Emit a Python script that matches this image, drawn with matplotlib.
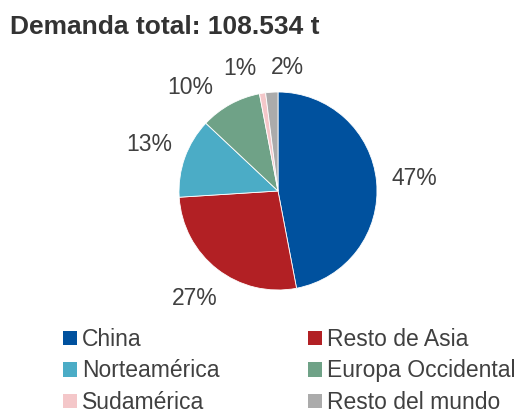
import numpy as np
import matplotlib
matplotlib.use('Agg')
from matplotlib import pyplot as plt
from matplotlib.patches import Patch

plt.rcParams['font.family'] = ['Liberation Sans', 'DejaVu Sans']

regions = ['China', 'Resto de Asia', 'Norteamérica', 'Europa Occidental', 'Sudamérica', 'Resto del mundo']
shares = [47, 27, 13, 10, 1, 2]
colors = ['#00519E', '#B22024', '#4BACC6', '#6FA287', '#F4C7C9', '#ABABAB']
title = 'Demanda total: 108.534 t'

text_col = '#404040'

fig = plt.figure(figsize=(5.26, 4.13), dpi=100)
cx, cy, r = 278, 191, 99
ax = fig.add_axes([(cx - r) / 526, (413 - cy - r) / 413, 2 * r / 526, 2 * r / 413])

wedges, texts = ax.pie(shares, colors=colors, startangle=90, counterclock=False,
                       labels=[f'{s}%' for s in shares], labeldistance=1.38,
                       wedgeprops=dict(linewidth=0.6, edgecolor='white'),
                       textprops=dict(fontsize=16.5, color=text_col))
for t in texts:
    t.set_ha('center')
    t.set_va('center')

# spread the small labels apart like the original: (angle shift, distance)
nudge = {3: (11.5, 1.37), 4: (8.2, 1.30), 5: (-8.2, 1.25)}
for i, (d, dist) in nudge.items():
    x, y = texts[i].get_position()
    ang = np.radians(np.degrees(np.arctan2(y, x)) + d)
    texts[i].set_position((dist * np.cos(ang), dist * np.sin(ang)))

ax.set_xlim(-1, 1)
ax.set_ylim(-1, 1)
ax.set_aspect('equal')

fig.text(10 / 526, 1 - 27 / 413, title, fontsize=19, fontweight='bold', color='#333333',
         ha='left', va='center')

handles = [Patch(facecolor=c, edgecolor='none') for c in colors]
order = [0, 2, 4, 1, 3, 5]
fig.legend([handles[i] for i in order], [regions[i] for i in order], ncol=2,
           loc='upper left', bbox_to_anchor=(63 / 526, 1 - 328 / 413), frameon=False,
           fontsize=16.5, labelcolor=text_col, handlelength=0.61, handleheight=0.61,
           handletextpad=0.22, columnspacing=3.85, labelspacing=0.37, borderpad=0,
           borderaxespad=0)

fig.savefig('out.png', dpi=100)
